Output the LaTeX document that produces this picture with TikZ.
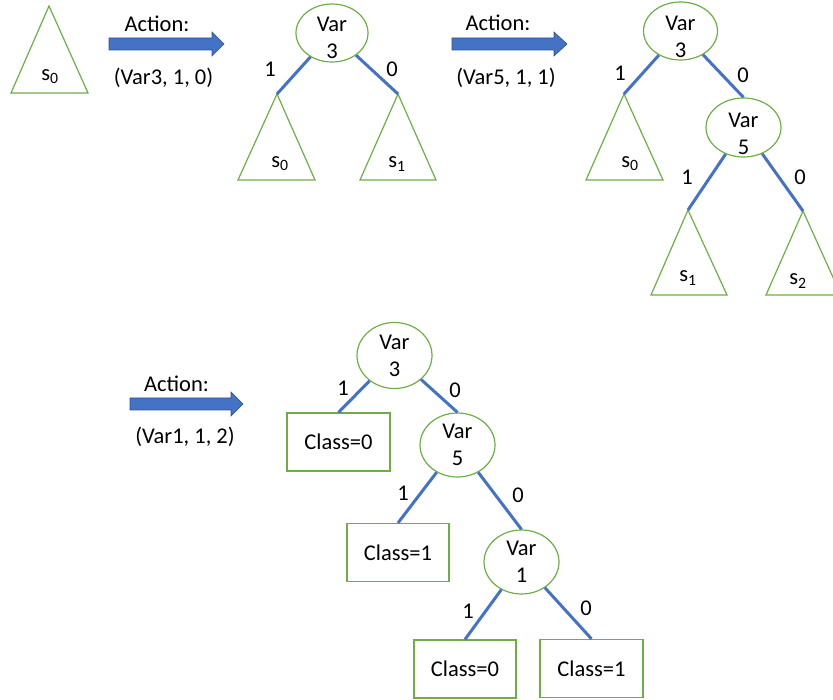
\documentclass[tikz,border=0pt]{standalone}
\usepackage{fontspec}
\setmainfont{Carlito}
\usetikzlibrary{shapes.geometric}
\definecolor{tgreen}{HTML}{70AD47}
\definecolor{tblue}{HTML}{4472C4}
\definecolor{tblued}{HTML}{2F528F}
\begin{document}
\begin{tikzpicture}[x=1pt,y=-1pt,
  every node/.style={font=\fontsize{22.5}{27}\selectfont, inner sep=0pt},
  varnode/.style={ellipse, draw=tgreen, line width=1.2pt, align=center, minimum width=75pt, minimum height=62pt},
  vartext/.style={align=center},
  leafbox/.style={rectangle, draw=tgreen, line width=1.2pt, minimum width=102pt, minimum height=58pt},
  subtree/.style={draw=tgreen, line width=1.2pt, line join=miter},
  branch/.style={draw=tblue, line width=3pt},
  bigarrow/.style={fill=tblue, draw=tblued, line width=0.6pt}
]
\useasboundingbox (0,0) rectangle (833,700);

% ---------- initial subtree ----------
\coordinate (t0) at (49,6);
\draw[subtree] (t0) -- (88,93) -- (11,93) -- cycle;
\node (s0a) at (50,77) {s\textsubscript{0}};

% ---------- arrow 1 ----------
\draw[bigarrow] (109,38) -- ++(103,0) -- ++(0,-6) -- ++(12,12) -- ++(-12,12) -- ++(0,-6) -- ++(-103,0) -- cycle;
\node (act1) at (157,24) {Action:};
\node (par1) at (163.5,78) {(Var3, 1, 0)};

% ---------- tree 1 ----------
\node[varnode, minimum width=72pt, minimum height=58pt] (v3a) at (332,33) {};
\node[vartext] (v3aT) at ([shift={(0,5)}]v3a.center) {Var\\3};
\coordinate (ta1) at (277,94);
\coordinate (ta2) at (398,94);
\draw[subtree] (ta1) -- (315,180) -- (238,180) -- cycle;
\draw[subtree] (ta2) -- (436,180) -- (360,180) -- cycle;
\draw[branch] (v3a) -- (ta1);
\draw[branch] (v3a) -- (ta2);
\node (la1) at (270,69) {1};
\node (la0) at (392,69) {0};
\node (sa0) at (280,164) {s\textsubscript{0}};
\node (sa1) at (397,164) {s\textsubscript{1}};

% ---------- arrow 2 ----------
\draw[bigarrow] (452,38) -- ++(102,0) -- ++(0,-6) -- ++(13,12) -- ++(-13,12) -- ++(0,-6) -- ++(-102,0) -- cycle;
\node (act2) at (498,23) {Action:};
\node (par2) at (506,78) {(Var5, 1, 1)};

% ---------- tree 2 ----------
\node[varnode, minimum width=74pt, minimum height=58pt] (v3b) at (680.5,31) {};
\node[vartext] (v3bT) at ([shift={(0,6)}]v3b.center) {Var\\3};
\node[varnode, minimum width=75pt, minimum height=59pt] (v5b) at (743.5,127.5) {};
\node[vartext] (v5bT) at ([shift={(0,6)}]v5b.center) {Var\\5};
\coordinate (tb0) at (624,94);
\coordinate (tb1) at (688,210);
\coordinate (tb2) at (803,211);
\draw[subtree] (tb0) -- (663,180) -- (586,180) -- cycle;
\draw[subtree] (tb1) -- (727,295) -- (651,295) -- cycle;
\draw[subtree] (tb2) -- (841,295) -- (766,295) -- cycle;
\draw[branch] (v3b) -- (tb0);
\draw[branch] (v3b) -- (v5b.north);
\draw[branch] (v5b) -- (tb1);
\draw[branch] (v5b) -- (tb2);
\node (lb1) at (620,73) {1};
\node (lb0) at (743,75) {0};
\node (lb51) at (687,177) {1};
\node (lb50) at (800,177) {0};
\node (sb0) at (630,164) {s\textsubscript{0}};
\node (sb1) at (688,278) {s\textsubscript{1}};
\node (sb2) at (798,281) {s\textsubscript{2}};

% ---------- arrow 3 ----------
\draw[bigarrow] (130,398) -- ++(101,0) -- ++(0,-6) -- ++(12,12) -- ++(-12,12) -- ++(0,-6) -- ++(-101,0) -- cycle;
\node (act3) at (176.5,384) {Action:};
\node (par3) at (185,436.5) {(Var1, 1, 2)};

% ---------- tree 3 ----------
\node[varnode, minimum height=66pt] (v3c) at (394.5,355.5) {Var\\3};
\node[varnode, minimum height=64pt] (v5c) at (457.5,445) {Var\\5};
\node[varnode, minimum height=64pt] (v1c) at (521.5,562) {Var\\1};
\node[leafbox, minimum width=103pt] (c0a) at (338.5,442) {Class=0};
\node[leafbox] (c1a) at (398,552.5) {Class=1};
\node[leafbox] (c0b) at (465,669) {Class=0};
\node[leafbox, minimum width=103pt] (c1b) at (591.5,668.5) {Class=1};
\draw[branch] (v3c) -- (c0a.north);
\draw[branch] (v3c) -- (v5c.north);
\draw[branch] (v5c) -- (c1a.north);
\draw[branch] (v5c) -- (v1c.north);
\draw[branch] (v1c) -- (c0b.north);
\draw[branch] (v1c) -- (c1b.north);
\node (lc31) at (343,388) {1};
\node (lc30) at (455,390) {0};
\node (lc51) at (403,493) {1};
\node (lc50) at (518,495) {0};
\node (lc11) at (468,611) {1};
\node (lc10) at (586,608) {0};
\end{tikzpicture}
\end{document}
